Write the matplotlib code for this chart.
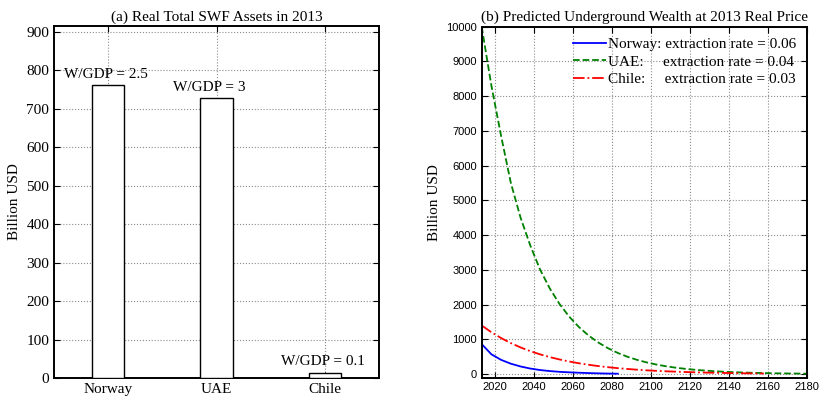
import numpy as np
import matplotlib
matplotlib.use('Agg')
import matplotlib.pyplot as plt

# (a) SWF assets in 2013, billion USD
countries = ['Norway', 'UAE', 'Chile']
assets = [762, 727, 14]
wgdp_labels = ['W/GDP = 2.5', 'W/GDP = 3', 'W/GDP = 0.1']

# (b) predicted underground wealth, billion USD
years_nor = [2013, 2018, 2023, 2028, 2033, 2038, 2043, 2048, 2053, 2058, 2063, 2068, 2073, 2078, 2083]
wealth_nor = [865, 570, 410, 300, 220, 160, 118, 88, 66, 52, 40, 30, 22, 16, 12]

years_uae = [2013, 2018, 2023, 2028, 2033, 2038, 2043, 2048, 2053, 2058, 2063, 2068,
             2073, 2078, 2083, 2088, 2093, 2098, 2103, 2108, 2113, 2118, 2123, 2128,
             2133, 2138, 2143, 2148, 2153, 2158, 2163, 2168, 2173, 2178, 2180]
wealth_uae = [10000, 8300, 6850, 5500, 4500, 3700, 3010, 2466, 2019, 1653, 1353, 1108,
              907, 743, 608, 498, 408, 334, 273, 224, 183, 150, 123, 101,
              82, 67, 55, 45, 37, 30, 25, 20, 17, 14, 13]

years_chl = [2013, 2018, 2023, 2028, 2033, 2038, 2043, 2048, 2053, 2058, 2063, 2068,
             2073, 2078, 2083, 2088, 2093, 2098, 2103, 2108, 2113, 2118, 2123, 2128,
             2133, 2138, 2143, 2148, 2153, 2158]
wealth_chl = [1400, 1205, 1037, 893, 768, 661, 569, 490, 422, 363, 312, 269,
              231, 199, 171, 148, 127, 109, 94, 81, 70, 60, 52, 44,
              38, 33, 28, 24, 21, 18]

serif = 'Liberation Serif'
sans = 'Liberation Sans'
plt.rcParams['font.family'] = serif

fig = plt.figure(figsize=(8.2, 4.0), dpi=100)
ax1 = fig.add_axes([0.0659, 0.055, 0.3963, 0.88])
ax2 = fig.add_axes([0.5874, 0.056, 0.3963, 0.8775])

def style(ax):
    for s in ax.spines.values():
        s.set_linewidth(1.4)
    ax.tick_params(direction='in', length=4, width=0.8, top=True, right=True)
    ax.grid(True, linestyle=':', color='0.55', linewidth=0.8)
    ax.set_axisbelow(True)

# left panel
pos = np.arange(1, len(countries) + 1)
ax1.bar(pos, assets, width=0.3, color='white', edgecolor='black', linewidth=1.0, zorder=3)
label_dx = [-1.5, -5, -1.5]  # text nudges in points
for x, v, lab, dx in zip(pos, assets, wgdp_labels, label_dx):
    ax1.annotate(lab, (x, v), xytext=(dx, 3), textcoords='offset points',
                 ha='center', va='bottom', fontsize=11)
ax1.set_xlim(0.5, 3.5)
ax1.set_ylim(0, 915)
ax1.set_xticks(pos)
ax1.set_xticklabels(countries, fontsize=11)
ax1.set_yticks(range(0, 901, 100))
ax1.tick_params(axis='y', labelsize=11)
ax1.set_ylabel('Billion USD', fontsize=11)
ax1.set_title('(a) Real Total SWF Assets in 2013', fontsize=11, pad=4)
style(ax1)

# right panel
ax2.plot(years_nor, wealth_nor, color='blue', linestyle='-', linewidth=1.3,
         label='Norway: extraction rate = 0.06')
ax2.plot(years_uae, wealth_uae, color=(0, 0.5, 0), linestyle='--', linewidth=1.3,
         label='UAE:     extraction rate = 0.04')
ax2.plot(years_chl, wealth_chl, color='red', linestyle='-.', linewidth=1.3,
         label='Chile:     extraction rate = 0.03')
ax2.set_xlim(2013, 2180)
ax2.set_ylim(-100, 10000)
ax2.set_xticks(range(2020, 2181, 20))
ax2.set_yticks(range(0, 10001, 1000))
for t in ax2.get_xticklabels() + ax2.get_yticklabels():
    t.set_fontfamily(sans)
    t.set_fontsize(8)
ax2.set_ylabel('Billion USD', fontsize=11)
ax2.set_title('(b) Predicted Underground Wealth at 2013 Real Price', fontsize=11, pad=4)
ax2.legend(loc='upper right', frameon=False, fontsize=11, handlelength=2.2,
           handletextpad=0.1, labelspacing=0.25, borderaxespad=0.3)
style(ax2)

fig.savefig('out.png', dpi=100)
